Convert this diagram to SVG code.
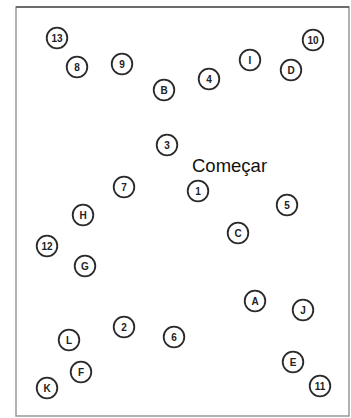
<svg xmlns="http://www.w3.org/2000/svg" width="351" height="418" viewBox="0 0 351 418">
<style>
.n circle{fill:#fff;stroke:#2a2a2a;stroke-width:1.8}
.n text{font-family:"Liberation Sans",Arial,sans-serif;font-size:10px;font-weight:bold;fill:#222;text-anchor:middle;dominant-baseline:central}
.lbl{font-family:"Liberation Sans",Arial,sans-serif;font-size:18.5px;fill:#111}
</style>
<rect x="16" y="7" width="333" height="409" fill="#fff" stroke="#999" stroke-width="1.5"/>
<line x1="16" y1="7" x2="349" y2="7" stroke="#555" stroke-width="1.5"/>
<g id="connectors"></g>
<g id="n13" class="n"><circle cx="57" cy="38" r="10.3"/><text x="57" y="38">13</text></g>
<g id="n8" class="n"><circle cx="77" cy="67" r="10.3"/><text x="77" y="67">8</text></g>
<g id="n9" class="n"><circle cx="122" cy="64" r="10.3"/><text x="122" y="64">9</text></g>
<g id="nB" class="n"><circle cx="164" cy="90" r="10.3"/><text x="164" y="90">B</text></g>
<g id="n4" class="n"><circle cx="209" cy="79" r="10.3"/><text x="209" y="79">4</text></g>
<g id="nI" class="n"><circle cx="250" cy="60" r="10.3"/><text x="250" y="60">I</text></g>
<g id="nD" class="n"><circle cx="291" cy="70" r="10.3"/><text x="291" y="70">D</text></g>
<g id="n10" class="n"><circle cx="313" cy="40" r="10.3"/><text x="313" y="40">10</text></g>
<g id="n3" class="n"><circle cx="167" cy="145" r="10.3"/><text x="167" y="145">3</text></g>
<g id="n7" class="n"><circle cx="124" cy="187" r="10.3"/><text x="124" y="187">7</text></g>
<g id="nH" class="n"><circle cx="83" cy="215" r="10.3"/><text x="83" y="215">H</text></g>
<g id="n12" class="n"><circle cx="47" cy="246" r="10.3"/><text x="47" y="246">12</text></g>
<g id="nG" class="n"><circle cx="85" cy="266" r="10.3"/><text x="85" y="266">G</text></g>
<g id="start"><text class="lbl" x="192" y="172">Começar</text></g>
<g id="n1" class="n"><circle cx="198" cy="191" r="10.3"/><text x="198" y="191">1</text></g>
<g id="n5" class="n"><circle cx="287" cy="205" r="10.3"/><text x="287" y="205">5</text></g>
<g id="nC" class="n"><circle cx="238" cy="233" r="10.3"/><text x="238" y="233">C</text></g>
<g id="n2" class="n"><circle cx="124" cy="327" r="10.3"/><text x="124" y="327">2</text></g>
<g id="n6" class="n"><circle cx="174" cy="337" r="10.3"/><text x="174" y="337">6</text></g>
<g id="nL" class="n"><circle cx="69" cy="340" r="10.3"/><text x="69" y="340">L</text></g>
<g id="nF" class="n"><circle cx="81" cy="372" r="10.3"/><text x="81" y="372">F</text></g>
<g id="nK" class="n"><circle cx="47" cy="388" r="10.3"/><text x="47" y="388">K</text></g>
<g id="nA" class="n"><circle cx="255" cy="301" r="10.3"/><text x="255" y="301">A</text></g>
<g id="nJ" class="n"><circle cx="303" cy="310" r="10.3"/><text x="303" y="310">J</text></g>
<g id="nE" class="n"><circle cx="293" cy="362" r="10.3"/><text x="293" y="362">E</text></g>
<g id="n11" class="n"><circle cx="320" cy="386" r="10.3"/><text x="320" y="386">11</text></g>
</svg>
